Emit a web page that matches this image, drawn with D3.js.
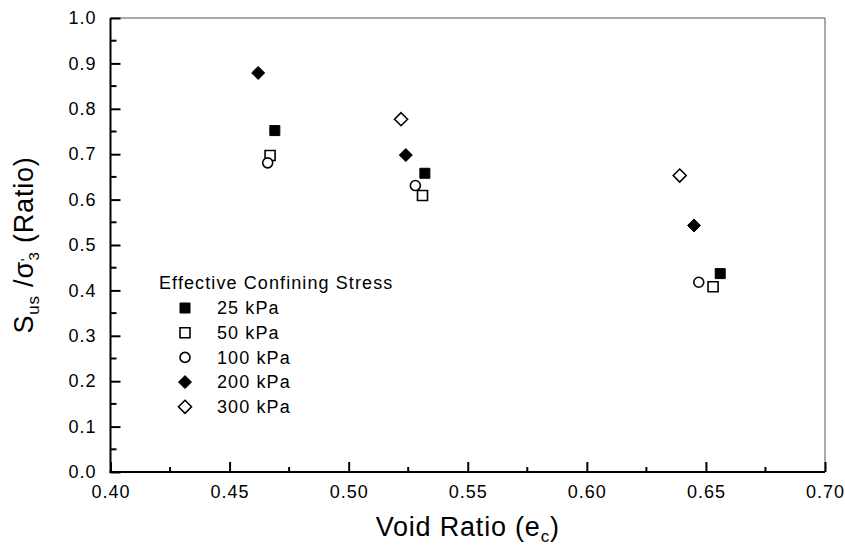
<!DOCTYPE html>
<html>
<head>
<meta charset="utf-8">
<script src="https://cdn.jsdelivr.net/npm/d3@7"></script>
<style>
  body { margin: 0; background: #fff; }
  svg { display: block; font-family: "Liberation Sans", Arial, sans-serif; }
  .tick-label { font-size: 18px; letter-spacing: 1px; fill: #000; }
  .axis-title { font-size: 27px; letter-spacing: 0.8px; fill: #000; }
  .legend-text { font-size: 18px; letter-spacing: 1.1px; fill: #000; }
</style>
</head>
<body>
<svg id="chart" width="845" height="547"></svg>
<script>
// 数据
const seriesNames = ["25 kPa", "50 kPa", "100 kPa", "200 kPa", "300 kPa"];
const voidRatio25 = [0.469, 0.532, 0.656];
const ratio25 = [0.752, 0.658, 0.437];
const voidRatio50 = [0.467, 0.531, 0.653];
const ratio50 = [0.697, 0.609, 0.408];
const voidRatio100 = [0.466, 0.528, 0.647];
const ratio100 = [0.681, 0.631, 0.418];
const voidRatio200 = [0.462, 0.524, 0.645];
const ratio200 = [0.879, 0.698, 0.543];
const voidRatio300 = [0.522, 0.639];
const ratio300 = [0.777, 0.653];
const xTicks = [0.40, 0.45, 0.50, 0.55, 0.60, 0.65, 0.70];
const yTicks = [0.0, 0.1, 0.2, 0.3, 0.4, 0.5, 0.6, 0.7, 0.8, 0.9, 1.0];

// 标记样式
const shapes = ["square", "square", "circle", "diamond", "diamond"];
const filled = [true, false, false, true, false];

const series = seriesNames.map((name, i) => {
    const xs = [voidRatio25, voidRatio50, voidRatio100, voidRatio200, voidRatio300][i];
    const ys = [ratio25, ratio50, ratio100, ratio200, ratio300][i];
    return { name, shape: shapes[i], filled: filled[i], points: xs.map((x, j) => ({ x, y: ys[j] })) };
});

const svg = d3.select("#chart");
const plotLeft = 110.5, plotRight = 825, plotTop = 18, plotBottom = 472;

const x = d3.scaleLinear().domain([0.40, 0.70]).range([plotLeft, plotRight]);
const y = d3.scaleLinear().domain([0, 1]).range([plotBottom, plotTop]);

// 边框 (上、右)
svg.append("path")
    .attr("d", `M${plotLeft},${plotTop}H${plotRight}V${plotBottom}`)
    .attr("fill", "none")
    .attr("stroke", "#555")
    .attr("stroke-width", 1);

// 坐标轴
const xAxis = d3.axisBottom(x).tickValues(xTicks).tickSize(-10).tickFormat(d3.format(".2f"));
const yAxis = d3.axisLeft(y).tickValues(yTicks).tickSize(-10).tickFormat(d3.format(".1f")).tickPadding(14);

const gx = svg.append("g").attr("transform", `translate(0,${plotBottom})`).call(xAxis);
const gy = svg.append("g").attr("transform", `translate(${plotLeft},0)`).call(yAxis);

[gx, gy].forEach(g => {
    g.select(".domain").attr("stroke", "#000").attr("stroke-width", 2);
    g.selectAll(".tick line").attr("stroke", "#000").attr("stroke-width", 2);
    g.selectAll(".tick text").attr("class", "tick-label");
    g.attr("font-size", null).attr("font-family", null);
});
gx.select(".domain").attr("d", `M${plotLeft - 1},0H${plotRight}`);
gy.select(".domain").attr("d", `M0,${plotBottom + 1}V${plotTop}`);
gx.selectAll(".tick text").attr("dy", "0.35em").attr("y", 20);

// 次刻度
const xMinor = d3.range(6).map(i => 0.425 + i * 0.05);
const yMinor = d3.range(10).map(i => 0.05 + i * 0.1);
svg.append("g").selectAll("line").data(xMinor).join("line")
    .attr("x1", d => x(d)).attr("x2", d => x(d))
    .attr("y1", plotBottom).attr("y2", plotBottom - 5)
    .attr("stroke", "#000").attr("stroke-width", 2);
svg.append("g").selectAll("line").data(yMinor).join("line")
    .attr("x1", plotLeft).attr("x2", plotLeft + 6)
    .attr("y1", d => y(d)).attr("y2", d => y(d))
    .attr("stroke", "#000").attr("stroke-width", 2);

// 标记绘制
function markerPath(shape, cx, cy) {
    if (shape === "square") {
        const h = 5;
        return `M${cx - h},${cy - h}h${2 * h}v${2 * h}h${-2 * h}Z`;
    }
    if (shape === "diamond") {
        const h = 6.5;
        return `M${cx},${cy - h}L${cx + h},${cy}L${cx},${cy + h}L${cx - h},${cy}Z`;
    }
    const r = 5;
    return `M${cx - r},${cy}a${r},${r} 0 1,0 ${2 * r},0a${r},${r} 0 1,0 ${-2 * r},0Z`;
}

function drawMarker(g, s, cx, cy) {
    g.append("path")
        .attr("d", markerPath(s.shape, cx, cy))
        .attr("fill", s.filled ? "#000" : "#fff")
        .attr("stroke", "#000")
        .attr("stroke-width", s.filled ? 1 : 1.6);
}

const plotG = svg.append("g");
series.forEach(s => {
    s.points.forEach(p => drawMarker(plotG, s, x(p.x), y(p.y)));
});

// 图例
const legend = svg.append("g");
legend.append("text").attr("class", "legend-text")
    .attr("x", 159).attr("y", 283).attr("dy", "0.35em")
    .text("Effective Confining Stress");
series.forEach((s, i) => {
    const ly = 308 + i * 24.7;
    drawMarker(legend, s, 185, ly);
    legend.append("text").attr("class", "legend-text")
        .attr("x", 217).attr("y", ly).attr("dy", "0.35em")
        .text(s.name);
});

// 轴标题
const xt = svg.append("text").attr("class", "axis-title")
    .attr("x", (plotLeft + plotRight) / 2).attr("y", 536)
    .attr("text-anchor", "middle");
xt.append("tspan").text("Void Ratio (e");
xt.append("tspan").attr("font-size", 17).attr("dy", 6).text("c");
xt.append("tspan").attr("dy", -6).text(")");

const yt = svg.append("text").attr("class", "axis-title")
    .attr("transform", `translate(33,${(plotTop + plotBottom) / 2}) rotate(-90)`)
    .attr("text-anchor", "middle");
yt.append("tspan").text("S");
yt.append("tspan").attr("font-size", 17).attr("dy", 6).text("us");
yt.append("tspan").attr("dy", -6).text(" /σ");
yt.append("tspan").attr("font-size", 15).attr("dy", -2).text("'");
yt.append("tspan").attr("font-size", 15).attr("dx", -3).attr("dy", 8).text("3");
yt.append("tspan").attr("dy", -6).text(" (Ratio)");
</script>
</body>
</html>
